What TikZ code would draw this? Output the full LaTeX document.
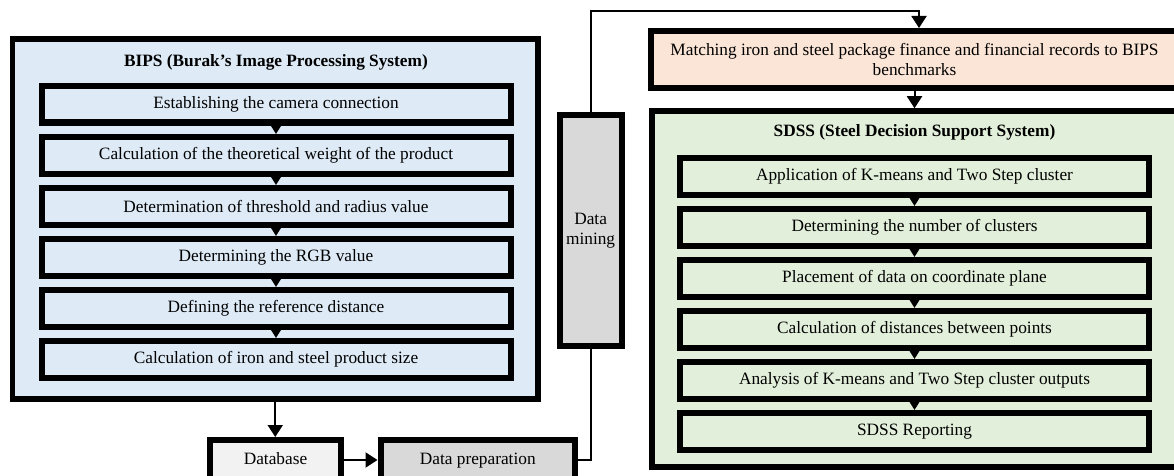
\documentclass[tikz,border=0pt]{standalone}
\usepackage{fontspec}
\setmainfont{Liberation Serif}
\usepackage{tikz}
\usetikzlibrary{arrows.meta,positioning}

\definecolor{bipsblue}{HTML}{DEEBF7}
\definecolor{sdssgreen}{HTML}{E2EFDA}
\definecolor{matchpeach}{HTML}{FBE5D6}
\definecolor{dbgray}{HTML}{F2F2F2}
\definecolor{minegray}{HTML}{D9D9D9}
\newcommand{\bodysize}{\fontsize{17.3}{20.5}\selectfont}

\begin{document}
\begin{tikzpicture}[x=1pt, y=-1pt, font=\bodysize, node distance=8.5pt,
  boxed/.style={draw, line width=6pt, inner sep=0pt},
  stagebox/.style={boxed, minimum width=469pt, minimum height=36.5pt},
  store/.style={boxed, minimum height=40pt, text height=12pt, text depth=4pt},
  heading/.style={font=\bodysize\bfseries},
  flow/.style={line width=2pt, -{Triangle[length=12pt,width=15pt]}},
  link/.style={line width=2pt, -{Triangle[length=8.5pt,width=10pt]}}]
  \useasboundingbox (0,0) rectangle (1174,476);
  \clip (0,0) rectangle (1174,476);

  % image processing side
  \node [boxed, line width=5.5pt, fill=bipsblue, minimum width=525.5pt, minimum height=360pt] (bips) at (275.25,219) {};
  \node [heading] (bipstitle) at (276,62) {BIPS (Burak's Image Processing System)};
  \node [stagebox] (b1) at (276,104.25) {Establishing the camera connection};
  \node [stagebox, below=of b1] (b2) {Calculation of the theoretical weight of the product};
  \node [stagebox, below=of b2] (b3) {Determination of threshold and radius value};
  \node [stagebox, below=of b3] (b4) {Determining the RGB value};
  \node [stagebox, below=of b4] (b5) {Defining the reference distance};
  \node [stagebox, below=of b5] (b6) {Calculation of iron and steel product size};
  \draw [link] (b1) -- (b2);
  \draw [link] (b2) -- (b3);
  \draw [link] (b3) -- (b4);
  \draw [link] (b4) -- (b5);
  \draw [link] (b5) -- (b6);

  \node [store, fill=dbgray, minimum width=131pt] (db) at (275.5,460) {Database};
  \node [store, fill=minegray, minimum width=194.5pt] (prep) at (477.75,460) {Data preparation};
  \node [boxed, fill=minegray, minimum width=61.8pt, minimum height=230.5pt, align=center] (mining) at (590.6,230.75) {Data\\mining};

  % decision support side
  \node [boxed, fill=matchpeach, minimum width=527pt, minimum height=57pt, align=center] (match) at (914.5,59.5)
    {Matching iron and steel package finance and financial records to BIPS\\benchmarks};
  \node [boxed, line width=5.5pt, fill=sdssgreen, minimum width=525pt, minimum height=356pt] (sdss) at (914.5,289) {};
  \node [heading] (sdsstitle) at (914.5,132) {SDSS (Steel Decision Support System)};
  \node [stagebox] (s1) at (914.5,176.25) {Application of K-means and Two Step cluster};
  \node [stagebox, below=of s1] (s2) {Determining the number of clusters};
  \node [stagebox, below=of s2] (s3) {Placement of data on coordinate plane};
  \node [stagebox, below=of s3] (s4) {Calculation of distances between points};
  \node [stagebox, below=of s4] (s5) {Analysis of K-means and Two Step cluster outputs};
  \node [stagebox, below=of s5] (s6) {SDSS Reporting};
  \draw [link] (s1) -- (s2);
  \draw [link] (s2) -- (s3);
  \draw [link] (s3) -- (s4);
  \draw [link] (s4) -- (s5);
  \draw [link] (s5) -- (s6);

  % connectors between the two systems
  \coordinate (turn) at (919,11);
  \draw [flow] (bips.south) -- (bips.south |- db.north);
  \draw [flow] (db) -- (prep);
  \draw [line width=2pt] (prep.east) -| (mining.south);
  \draw [flow] (mining.north) |- (turn) -- (turn |- match.north);
  \draw [flow] (match) -- (sdss);
\end{tikzpicture}
\end{document}
